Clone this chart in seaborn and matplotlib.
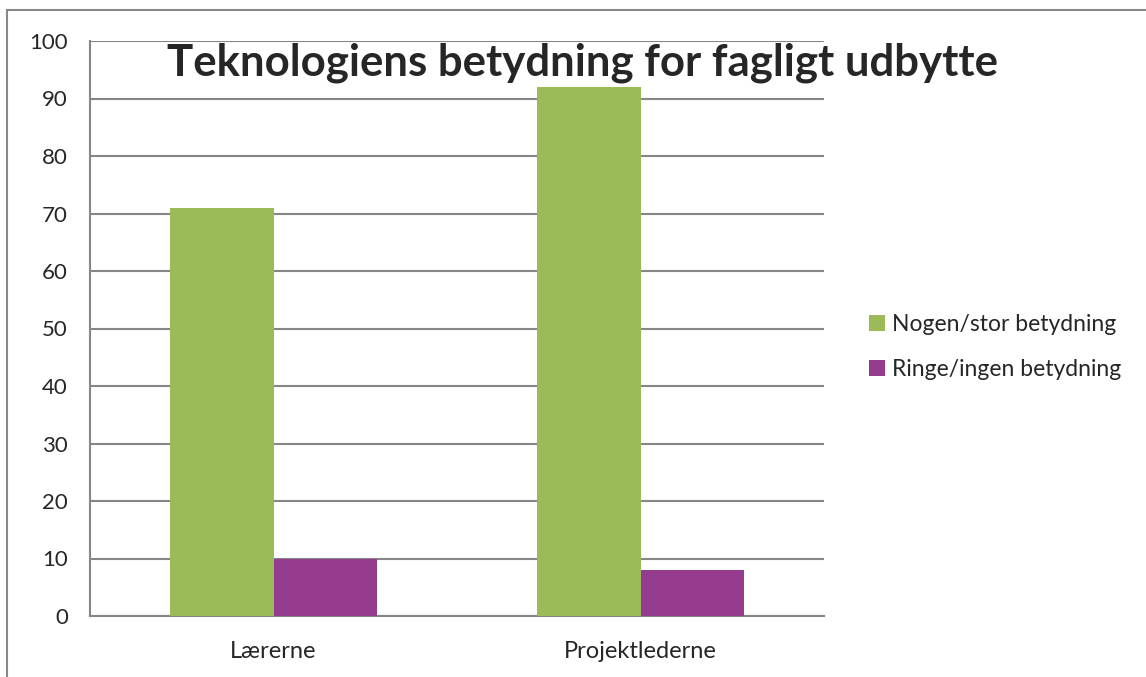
import pandas as pd
import seaborn as sns
import matplotlib.pyplot as plt
from matplotlib.patches import Rectangle

grupper = ['Lærerne', 'Projektlederne']
nogen_stor = [71, 92]
ringe_ingen = [10, 8]
serier = ['Nogen/stor betydning', 'Ringe/ingen betydning']
farver = ['#9BBB59', '#953C8E']

df = pd.DataFrame({
    'gruppe': grupper * 2,
    'procent': nogen_stor + ringe_ingen,
    'svar': [serier[0]] * len(grupper) + [serier[1]] * len(grupper),
})

sns.set_style('white')
plt.rcParams['font.family'] = ['Lato', 'DejaVu Sans']

fig = plt.figure(figsize=(11.46, 6.77), dpi=100)
ax = fig.add_axes([90/1146, 1-616/677, (824-90)/1146, (616-41)/677])

sns.barplot(data=df, x='gruppe', y='procent', hue='svar', palette=farver,
            width=0.565, saturation=1, linewidth=0, edgecolor='none', ax=ax, zorder=3)

ax.set_xlim(-0.5, 1.5)
ax.set_ylim(0, 100)
ax.set_yticks(range(0, 101, 10))
ax.yaxis.grid(True, color='#868686', lw=1.5, zorder=0)
ax.set_axisbelow(True)
ax.set_xlabel('')
ax.set_ylabel('')
for s in ['top', 'right']:
    ax.spines[s].set_visible(False)
for s in ['left', 'bottom']:
    ax.spines[s].set_color('#868686')
    ax.spines[s].set_linewidth(1.5)
ax.tick_params(axis='y', length=6, width=1.5, color='#868686', labelsize=16, pad=10)
ax.tick_params(axis='x', which='major', length=0, labelsize=17, pad=18)
ax.set_xticks([-0.5, 0.5, 1.5], minor=True)
ax.tick_params(axis='x', which='minor', length=7, width=1.5, color='#868686')

ax.legend(loc='center left', bbox_to_anchor=(848/1146, 1-347/677),
          bbox_transform=fig.transFigure, frameon=False, fontsize=16.5,
          handlelength=0.7, handleheight=0.7, handletextpad=0.3, labelspacing=1.05)

fig.text(0.508, 0.908, 'Teknologiens betydning for fagligt udbytte',
         ha='center', va='center', fontsize=31.5, fontweight='bold')

fig.add_artist(Rectangle((7/1146, -0.1), 1.2, 1-10/677+0.1, transform=fig.transFigure,
                         fill=False, edgecolor='#888888', lw=1.5))

fig.savefig('out.png', dpi=100)
